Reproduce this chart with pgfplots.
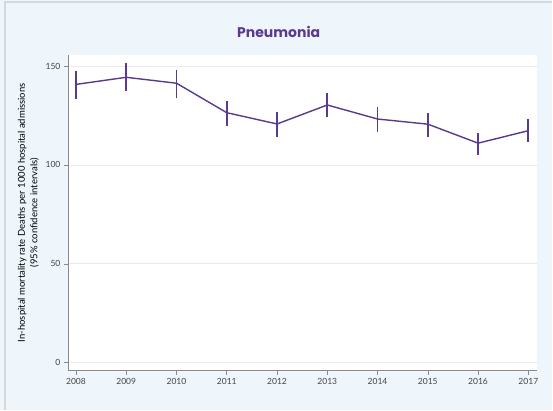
\documentclass[border=0pt]{standalone}
\usepackage{pgfplots}
\pgfplotsset{compat=1.18}
\usepackage{fontspec}
\setmainfont{Lato}
\newfontfamily\titlefont{Poppins}
\definecolor{bgblue}{HTML}{EEF6FC}
\definecolor{frame}{HTML}{D4D8DC}
\definecolor{purp}{HTML}{5A3A8E}
\definecolor{gridc}{HTML}{E9E9E9}
\definecolor{axisc}{HTML}{8A8A8A}
\definecolor{tickc}{HTML}{444444}
\begin{document}
\begin{tikzpicture}
\fill[bgblue] (0pt,0pt) rectangle (553pt,410pt);
\draw[frame,line width=1.2pt] (5pt,0pt) -- (5pt,408pt) -- (553pt,408pt);
\node[font=\titlefont\bfseries\fontsize{14}{16}\selectfont,text=purp] at (279pt,378pt) {Pneumonia};
\begin{axis}[
  at={(68pt,39pt)}, anchor=south west,
  scale only axis, width=470pt, height=316pt,
  xmin=2007.84, xmax=2017.18, ymin=-4, ymax=155.6,
  axis background/.style={fill=white},
  axis lines*=left,
  axis line style={axisc,line width=0.8pt},
  xtick={2008,...,2017},
  ytick={0,50,100,150},
  ymajorgrids, grid style={gridc,line width=0.8pt},
  x tick label style={/pgf/number format/1000 sep={}},
  /pgf/number format/assume math mode=true,
  tick label style={font=\fontsize{8.5}{10}\selectfont,text=tickc},
  tick style={axisc,line width=0.6pt},
  tick align=outside, major tick length=4pt,
  xtick pos=bottom, ytick pos=left,
  ylabel={In-hospital mortality rate Deaths per 1000 hospital admissions\\(95\% confidence intervals)},
  ylabel style={font=\fontsize{9.5}{12.5}\selectfont,text=black,align=center},
  ylabel shift=0pt,
  clip=false,
]
\addplot[purp, line width=1.4pt, mark=none,
  error bars/.cd, y dir=both, y explicit,
  error bar style={purp,line width=1.8pt}, error mark=none]
  table[x=x,y=y,y error plus=ep,y error minus=em] {
x y ep em
2008 140.7 6.9 7.4
2009 144.3 7.1 6.8
2010 141.3 6.7 7.3
2011 126.4 6.1 6.7
2012 120.7 5.9 6.4
2013 130.3 6.2 5.9
2014 123.2 6.2 6.4
2015 120.6 5.8 6.3
2016 111.0 5.0 6.0
2017 117.3 5.8 5.5
};
\end{axis}
\end{tikzpicture}
\end{document}
